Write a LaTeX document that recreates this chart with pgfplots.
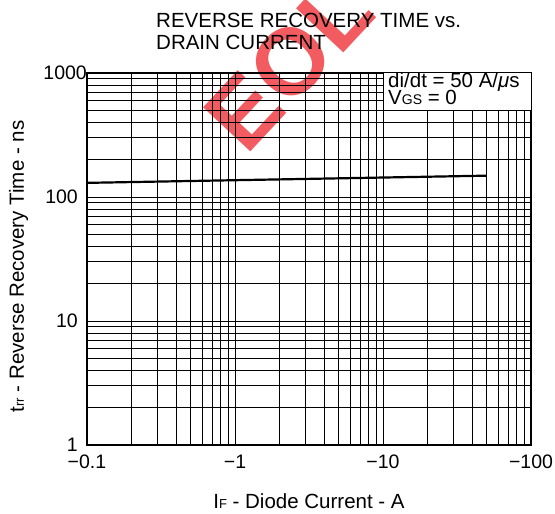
\documentclass[border=0pt]{standalone}
\usepackage{fontspec}
\setmainfont{Liberation Sans}
\usepackage{pgfplots}
\pgfplotsset{compat=1.18}
\definecolor{eol}{RGB}{242,92,96}
\begin{document}
\begin{tikzpicture}
\node[rotate=47, text=eol, font=\fontsize{94}{94}\selectfont\bfseries, inner sep=0pt] at (202pt,381pt) {EOL};
\begin{axis}[
  xmode=log, ymode=log,
  scale only axis, width=444pt, height=372pt,
  xmin=0.1, xmax=100, ymin=1, ymax=1000,
  xtick={0.1,1,10,100}, xticklabels={−0.1,−1,−10,−100},
  ytick={1,10,100,1000}, yticklabels={1,10,100,1000\hspace*{-9pt}},
  grid=both,
  major grid style={black, line width=0.9pt},
  minor grid style={black, line width=0.9pt},
  major tick length=0pt, minor tick length=0pt,
  axis line style={line width=1.3pt},
  /pgf/number format/assume math mode=true,
  tick label style={font=\fontsize{19.5}{20}\selectfont},
  xticklabel style={anchor=base, yshift=-24pt},
  yticklabel style={anchor=east, inner sep=0pt, xshift=-9pt},
  xlabel={I{\fontsize{13}{13}\selectfont F} - Diode Current - A},
  ylabel={t{\fontsize{13}{13}\selectfont rr} - Reverse Recovery Time - ns},
  xlabel style={at={(axis description cs:0.5,-0.172)}, anchor=base, font=\fontsize{20.5}{22}\selectfont},
  ylabel style={at={(axis description cs:-0.1419,0.48)}, anchor=base, font=\fontsize{20.5}{22}\selectfont},
]
\addplot[black, line width=2.2pt] coordinates {(0.1,130) (50,148.6)};
\draw[fill=white, line width=1pt] (rel axis cs:0.667,0.9) rectangle (rel axis cs:1,1);
\node[anchor=base west, inner sep=0pt, font=\fontsize{20.5}{22}\selectfont] at (rel axis cs:0.678,0.96) {di/dt = 50 A/\textit{μ}s};
\node[anchor=base west, inner sep=0pt, font=\fontsize{20.5}{22}\selectfont] at (rel axis cs:0.678,0.914) {V{\fontsize{14}{14}\selectfont GS} = 0};
\end{axis}
\node[anchor=base west, inner sep=0pt, font=\fontsize{20.5}{22}\selectfont] at (69pt,417pt) {REVERSE RECOVERY TIME vs.};
\node[anchor=base west, inner sep=0pt, font=\fontsize{20.5}{22}\selectfont] at (69pt,395pt) {DRAIN CURRENT};
\pgfresetboundingbox
\path[use as bounding box] (-87pt,-69pt) rectangle (468pt,445pt);
\end{tikzpicture}
\end{document}
